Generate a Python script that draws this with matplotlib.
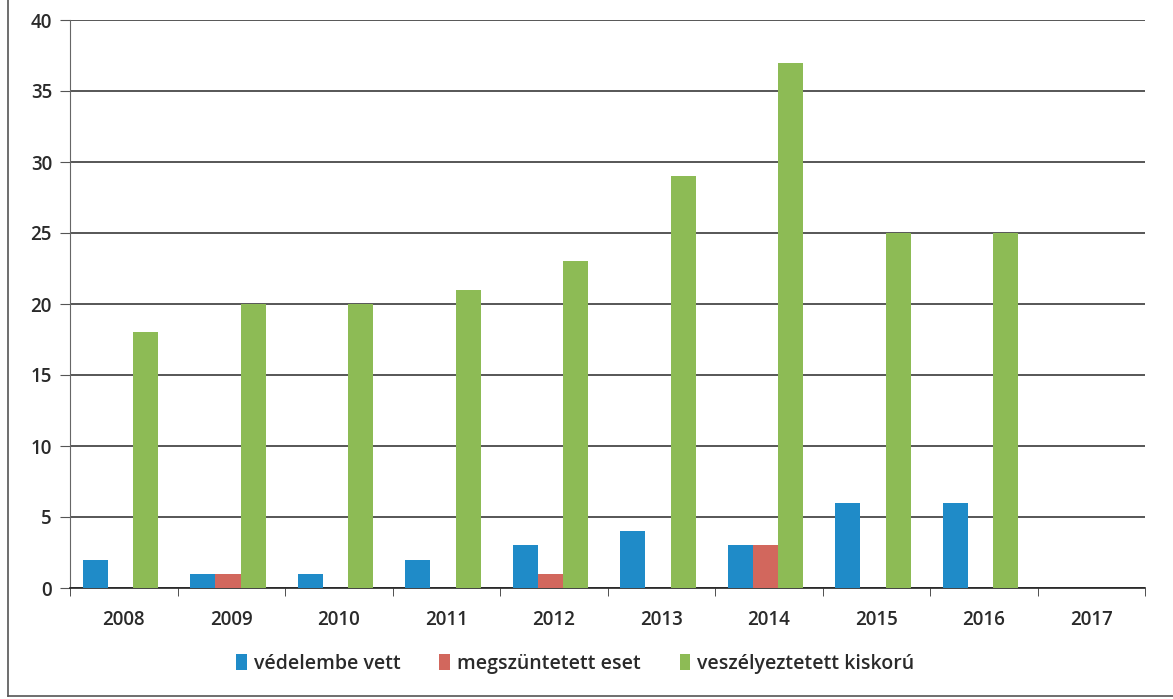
import numpy as np
import matplotlib.pyplot as plt
from matplotlib.lines import Line2D

# -- data
years     = ['2008', '2009', '2010', '2011', '2012', '2013', '2014', '2015', '2016', '2017']
vedelembe = [2, 1, 1, 2, 3, 4, 3, 6, 6, 0]
megszunt  = [0, 1, 0, 0, 1, 0, 3, 0, 0, 0]
veszelyez = [18, 20, 20, 21, 23, 29, 37, 25, 25, 0]

labels = ['védelembe vett', 'megszüntetett eset', 'veszélyeztetett kiskorú']
colors = ['#1f8bc8', '#d2675d', '#8dbb55']

plt.rcParams['font.family'] = ['Open Sans', 'DejaVu Sans']
plt.rcParams['font.weight'] = 'semibold'

fig = plt.figure(figsize=(11.73, 6.99), dpi=100)
ax = fig.add_axes([70 / 1173, 1 - 588 / 699, 1075 / 1173, 568 / 699])

x = np.arange(len(years))
w = 0.235
for i, (vals, lab, col) in enumerate(zip([vedelembe, megszunt, veszelyez], labels, colors)):
    ax.bar(x + (i - 1) * w - 0.03, vals, width=w, color=col, label=lab, zorder=3)

ax.set_xlim(-0.5, len(years) - 0.5)
ax.set_ylim(0, 40)
ax.set_yticks(range(0, 41, 5))
ax.yaxis.grid(True, color='#3a3a3a', linewidth=1.2, zorder=0)
ax.set_xticks(x)
ax.set_xticklabels(years)
ax.set_xticks(np.arange(-0.5, len(years)), minor=True)
ax.tick_params(axis='x', which='major', length=0, pad=16, labelsize=13.5, colors='#2a2a2a')
ax.tick_params(axis='x', which='minor', length=6, color='#333333')
ax.tick_params(axis='y', length=7, color='#555555', labelsize=13.5, colors='#2a2a2a', pad=6)
for s in ['top', 'right']:
    ax.spines[s].set_visible(False)
ax.spines['left'].set_color('#666666')
ax.spines['bottom'].set_color('#222222')
ax.spines['bottom'].set_linewidth(1.2)

leg = ax.legend(loc='upper center', bbox_to_anchor=(0.47, -0.085), ncol=3, frameon=False,
                fontsize=14, handlelength=0.55, handleheight=0.9, handletextpad=0.35,
                columnspacing=2.0)
for t in leg.get_texts():
    t.set_color('#2a2a2a')

# -- outer frame (left and bottom edges as in the scan)
fig.add_artist(Line2D([8 / 1173, 8 / 1173], [0.005, 1.0], color='#555555', lw=1.2))
fig.add_artist(Line2D([8 / 1173, 1.0], [0.005, 0.005], color='#555555', lw=1.2))

plt.savefig('out.png', dpi=100)
